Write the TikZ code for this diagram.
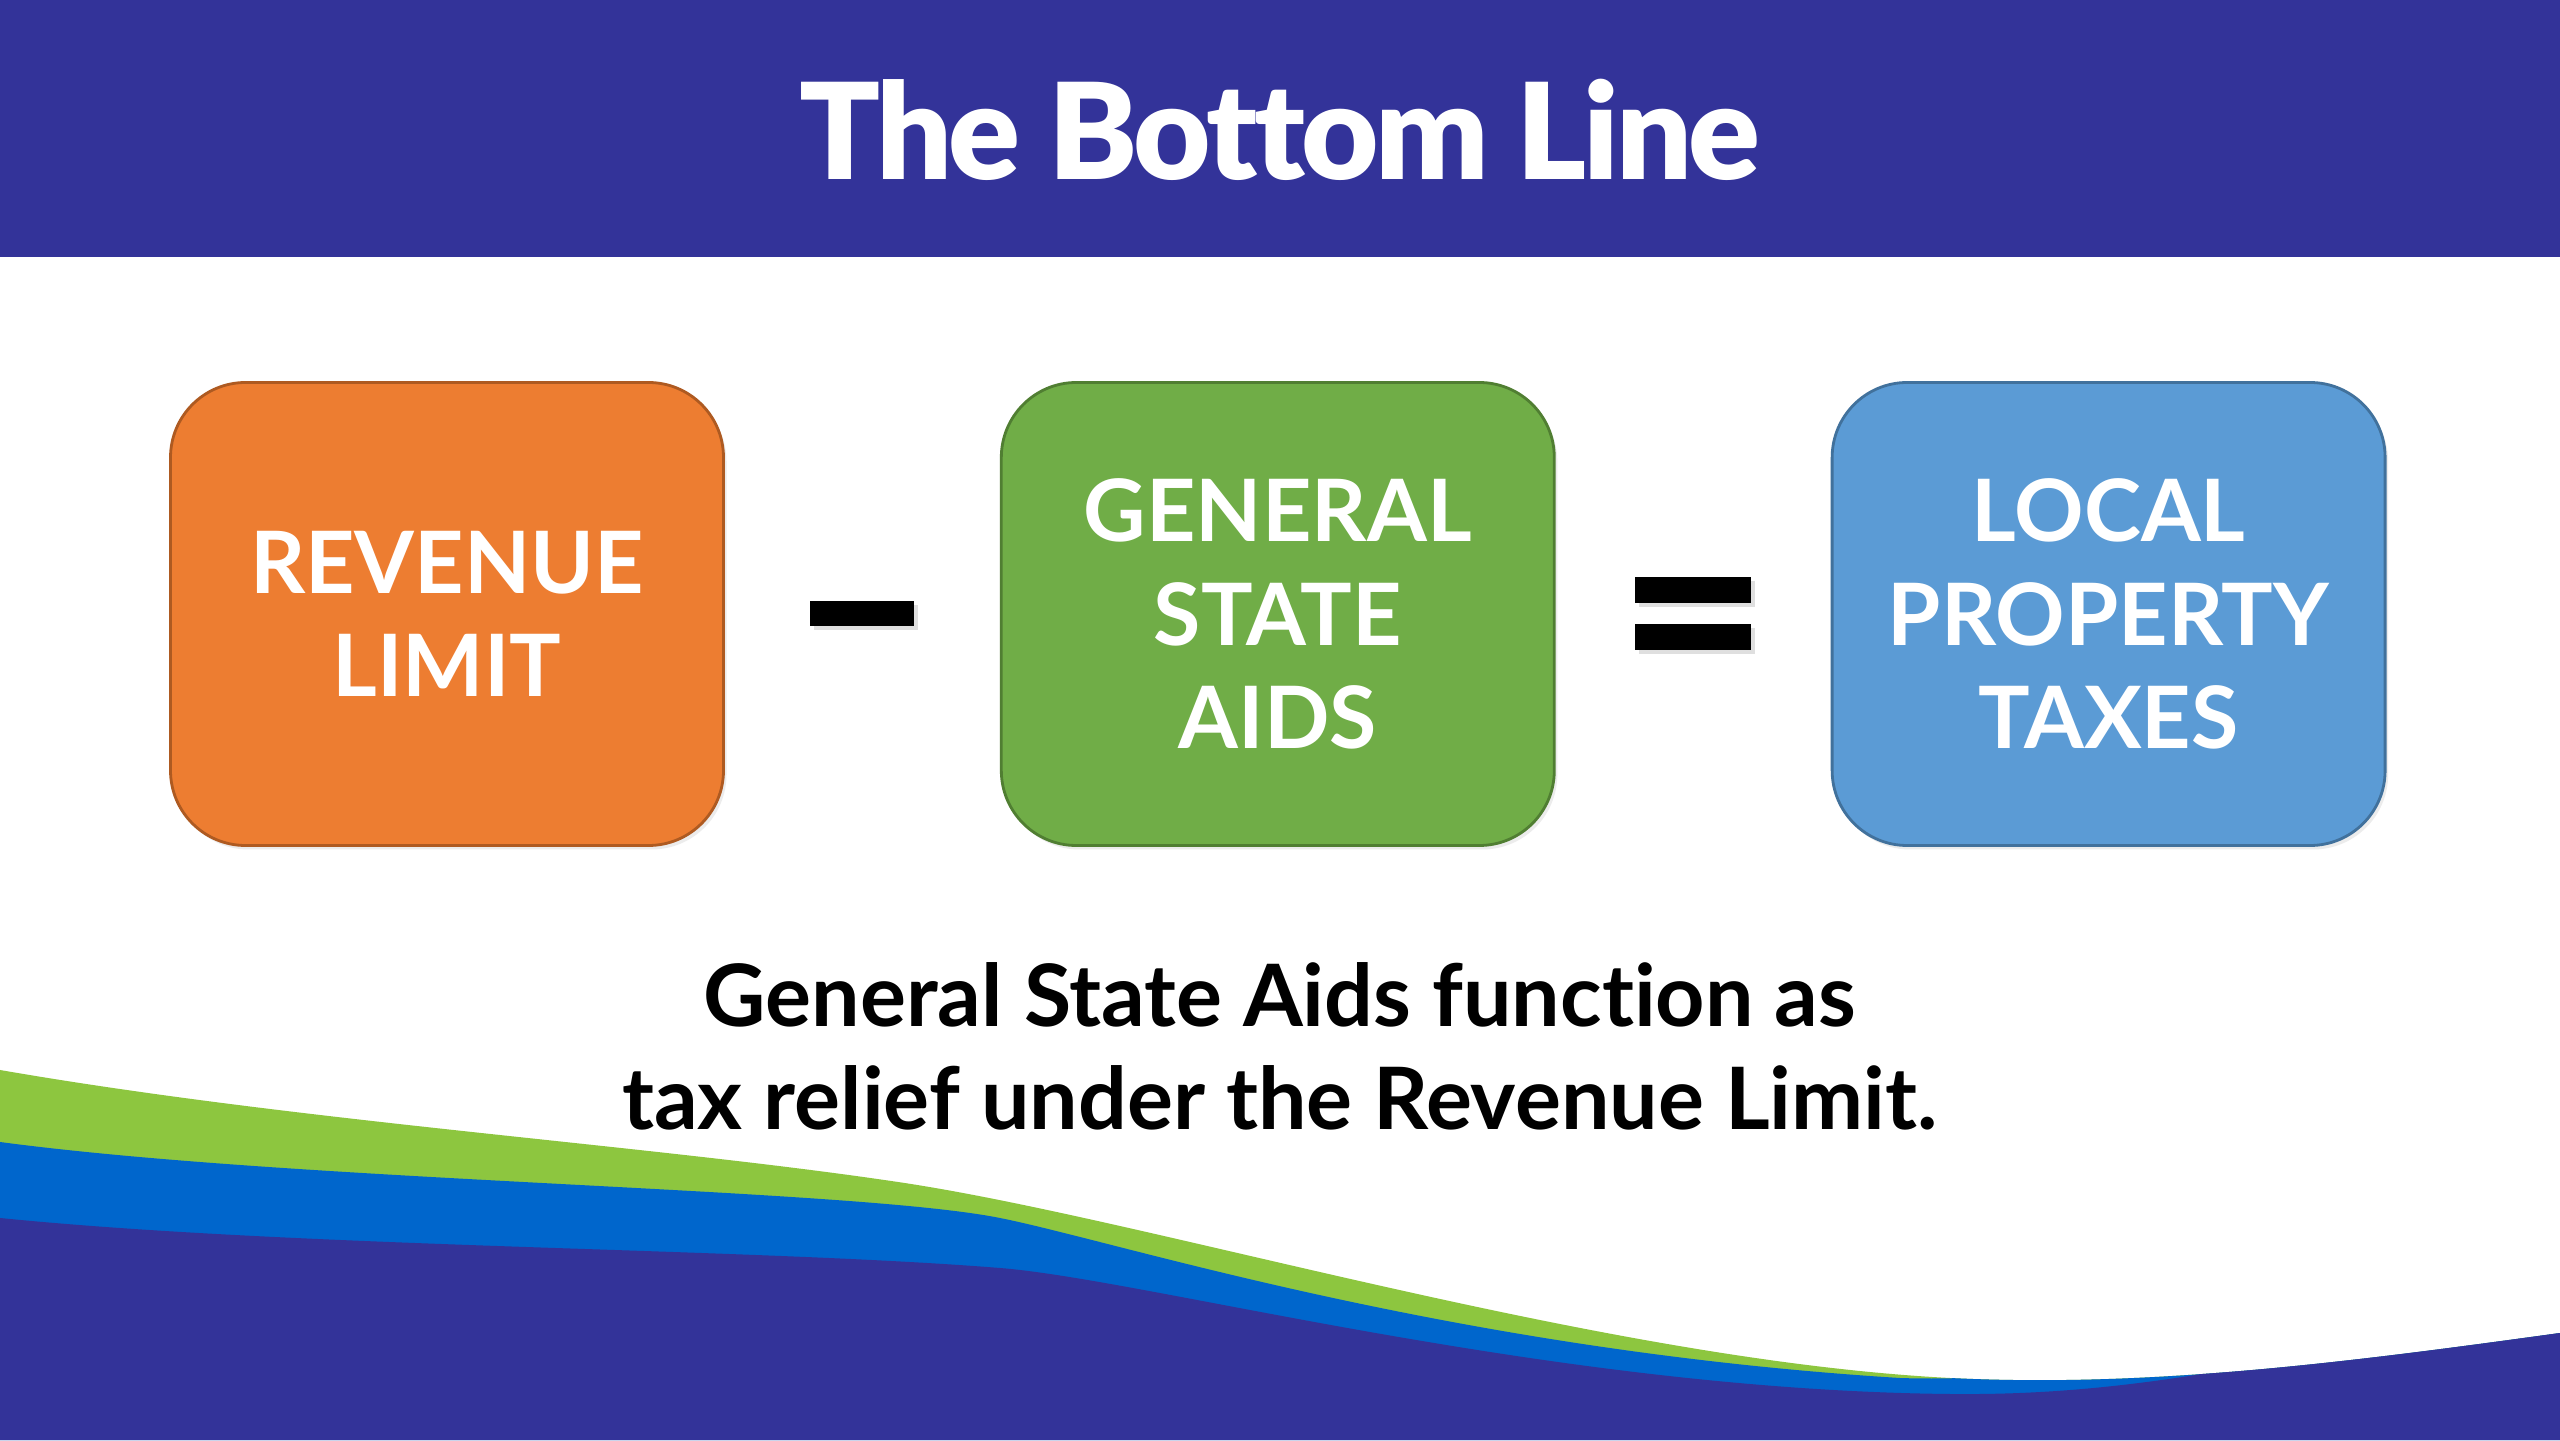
\documentclass[tikz,border=0pt]{standalone}
\usepackage{fontspec}
\setmainfont{Lato}[Ligatures=NoCommon]
\newfontfamily\titlefont{Lato Black}[LetterSpace=-2.5,Ligatures=NoCommon]
\usetikzlibrary{positioning,calc,shadows}

\definecolor{navy}{HTML}{333399}
\definecolor{wavegreen}{HTML}{8DC63F}
\definecolor{waveblue}{HTML}{0066CC}
\definecolor{revorange}{HTML}{ED7D31}
\definecolor{revorangedark}{HTML}{AE5A21}
\definecolor{aidgreen}{HTML}{70AD47}
\definecolor{aidgreendark}{HTML}{507E32}
\definecolor{taxblue}{HTML}{5B9BD5}
\definecolor{taxbluedark}{HTML}{41719C}

\tikzset{
  termbox/.style={rounded corners=0.75cm, minimum width=5.53cm, minimum height=4.63cm,
    line width=0.8pt, text=white, align=center, inner sep=0pt,
    font=\bfseries\fontsize{24.5}{29.5}\selectfont,
    drop shadow={opacity=0.15, shadow xshift=0.03cm, shadow yshift=-0.04cm}},
  signbar/.style={fill=black, inner sep=0pt, minimum height=0.25cm,
    drop shadow={opacity=0.25, shadow xshift=0.04cm, shadow yshift=-0.04cm}}
}

\begin{document}
\begin{tikzpicture}
  \useasboundingbox (0,0) rectangle (25.6,14.4);
  \fill[white] (0,0) rectangle (25.6,14.4);

  % Kopfleiste
  \fill[navy] (0,11.83) rectangle (25.6,14.4);
  \node[text=white, anchor=base, font=\titlefont\fontsize{38}{46}\selectfont] (title) at (12.8,12.6) {The Bottom Line};

  % Wellen unten
  \begin{scope}
    \clip (0,3.70) .. controls (3,3.18) and (6.5,2.95) .. (8.98,2.58)
      .. controls (11.48,2.21) and (16.0,0.80) .. (19.5,0.62)
      .. controls (21.5,0.52) and (23.5,0.78) .. (25.6,1.07)
      -- (25.6,0) -- (0,0) -- cycle;
    \fill[wavegreen] (0,0) rectangle (25.6,4);
    \fill[waveblue] (0,2.98) .. controls (3,2.58) and (8.5,2.52) .. (10.0,2.22)
      .. controls (11.2,1.98) and (14.5,0.90) .. (19.0,0.62)
      .. controls (20.5,0.57) and (22.0,0.90) .. (25.6,1.40)
      -- (25.6,0) -- (0,0) -- cycle;
    \fill[navy] (0,2.22) .. controls (3,1.92) and (7.5,1.92) .. (10.0,1.72)
      .. controls (11.5,1.60) and (15.5,0.50) .. (19.5,0.46)
      .. controls (21.0,0.445) and (22.5,0.65) .. (25.6,1.45)
      -- (25.6,0) -- (0,0) -- cycle;
  \end{scope}

  % Gleichung
  \node[termbox, fill=revorange, draw=revorangedark] (rev) at (4.47,8.26) {REVENUE\\LIMIT};
  \node[termbox, fill=aidgreen, draw=aidgreendark, right=2.75cm of rev] (gsa) {GENERAL\\STATE\\AIDS};
  \node[termbox, fill=taxblue, draw=taxbluedark, right=2.75cm of gsa] (tax) {LOCAL\\PROPERTY\\TAXES};

  \node[signbar, minimum width=1.04cm] (minus) at ($(rev)!0.5!(gsa)$) {};
  \node[signbar, minimum width=1.16cm, minimum height=0.26cm] (eqtop) at ($(gsa)!0.5!(tax)+(0,0.235)$) {};
  \node[signbar, minimum width=1.16cm, minimum height=0.26cm] (eqbot) at ($(gsa)!0.5!(tax)+(0,-0.235)$) {};

  % Fazit
  \node[align=center, font=\bfseries\fontsize{24.5}{29.3}\selectfont] (note) at (12.8,3.94)
    {General State Aids function as\\tax relief under the Revenue Limit.};
\end{tikzpicture}
\end{document}
